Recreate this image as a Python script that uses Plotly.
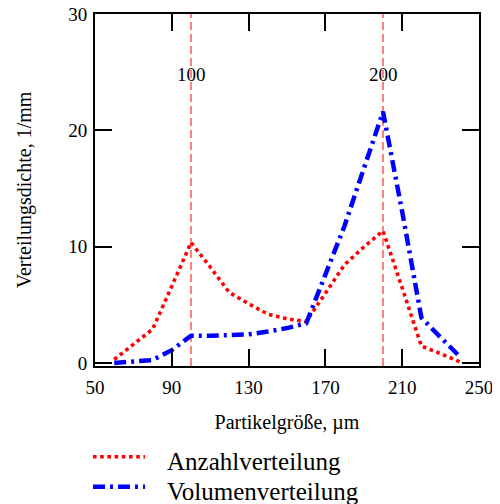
import plotly.graph_objects as go

# Data
x_anzahl = [60, 70, 80, 90, 100, 110, 120, 130, 140, 150, 160, 170, 180, 190, 200, 210, 220, 230, 240]
y_anzahl = [0.3, 1.6, 2.9, 6.6, 10.35, 8.25, 6.05, 5.1, 4.2, 3.8, 3.55, 6.0, 8.45, 9.97, 11.35, 6.45, 1.45, 0.8, 0.1]

x_volumen = [60, 70, 80, 90, 100, 110, 120, 130, 140, 150, 160, 170, 180, 190, 200, 210, 220, 230, 240]
y_volumen = [0.0, 0.12, 0.25, 1.1, 2.35, 2.33, 2.35, 2.46, 2.7, 3.0, 3.4, 7.5, 11.8, 16.7, 21.6, 13.0, 3.9, 2.2, 0.55]

marker_x = [100, 200]
marker_labels = ["100", "200"]

x_ticks = [50, 90, 130, 170, 210, 250]
y_ticks = [0, 10, 20, 30]

legend_names = ["Anzahlverteilung", "Volumenverteilung"]

FONT = "Liberation Serif, Times New Roman, serif"
RED = "#ff0000"
BLUE = "#0000ff"

# figure is shown with the page's 8px body margin, so size/margins compensate
W, H = 492, 496
ML, MR, MT, MB = 87, 21, 6, 138
PW, PH = W - ML - MR, H - MT - MB


def px_to_paper_x(px):
    return (px - 8 - ML) / PW


def px_to_paper_y(py):
    return (H - MB - (py - 8)) / PH


fig = go.Figure()
fig.add_trace(go.Scatter(
    x=x_anzahl, y=y_anzahl, mode="lines", name=legend_names[0],
    line=dict(color=RED, width=3.6, dash="dot"), showlegend=False,
))
fig.add_trace(go.Scatter(
    x=x_volumen, y=y_volumen, mode="lines", name=legend_names[1],
    line=dict(color=BLUE, width=4.5, dash="12px,5px,3px,5px"), showlegend=False,
))

for xv, lab in zip(marker_x, marker_labels):
    fig.add_shape(type="line", xref="x", yref="paper", x0=xv, x1=xv, y0=0, y1=1,
                  line=dict(color=RED, width=1, dash="8px,4px"), layer="below")
    fig.add_annotation(x=xv, y=24.8, xref="x", yref="y", text=lab, showarrow=False,
                       font=dict(family=FONT, size=19, color="black"))

# Manual legend (line samples + text), positions in pixels
leg_rows = [(456.7, 461.5, RED, 3.6, "dot"), (486.7, 491.5, BLUE, 4.5, "12px,5px,3px,5px")]
for (ly, ty, col, w, d), name in zip(leg_rows, legend_names):
    fig.add_shape(type="line", xref="paper", yref="paper",
                  x0=px_to_paper_x(93), x1=px_to_paper_x(145),
                  y0=px_to_paper_y(ly), y1=px_to_paper_y(ly),
                  line=dict(color=col, width=w, dash=d))
    fig.add_annotation(x=px_to_paper_x(165), y=px_to_paper_y(ty), xref="paper", yref="paper",
                       text=name, showarrow=False, xanchor="left", yanchor="middle",
                       font=dict(family=FONT, size=25, color="black"))

axis_common = dict(
    showline=True, linecolor="black", linewidth=2, mirror="ticks",
    ticks="inside", ticklen=17, tickwidth=2, tickcolor="black",
    showgrid=False, zeroline=False, automargin=False, ticklabeloverflow="allow",
    tickfont=dict(family=FONT, size=19, color="black"),
)

fig.update_xaxes(range=[50, 250], tickvals=x_ticks, ticktext=[str(v) for v in x_ticks],
                 ticklabelstandoff=3,
                 title=dict(text="Partikelgröße, µm", font=dict(family=FONT, size=20, color="black"), standoff=18),
                 **axis_common)
fig.update_yaxes(range=[-0.26, 30], tickvals=y_ticks, ticktext=[str(v) for v in y_ticks],
                 ticklabelstandoff=2,
                 title=dict(text="Verteilungsdichte, 1/mm", font=dict(family=FONT, size=20, color="black"), standoff=31),
                 **axis_common)

fig.update_layout(
    width=W, height=H,
    margin=dict(l=ML, r=MR, t=MT, b=MB, autoexpand=False),
    paper_bgcolor="white", plot_bgcolor="white",
    font=dict(family=FONT, color="black"),
    showlegend=False,
)

fig.write_html("out.html")
